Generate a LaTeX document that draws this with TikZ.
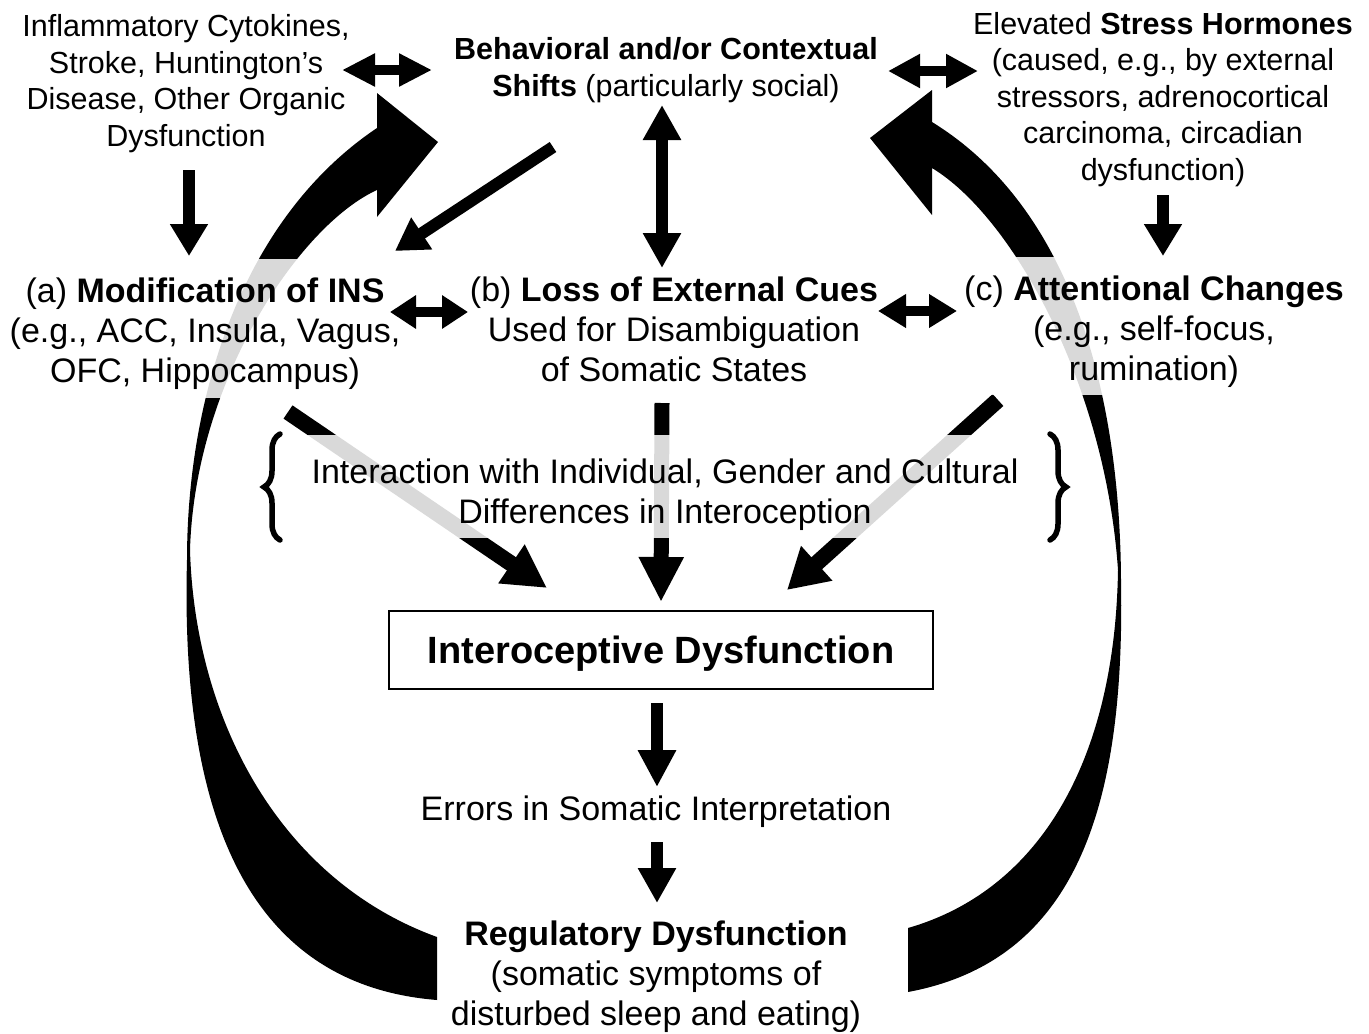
\documentclass[tikz,border=0pt]{standalone}
\usepackage{fontspec}
\setmainfont{Liberation Sans}
\usetikzlibrary{arrows.meta,decorations.pathreplacing}

% multi-line nodes are anchored at the baseline of their last line
\tikzset{
  toptext/.style={font=\fontsize{30.5}{36.5}\selectfont, align=center, anchor=base, inner sep=0pt},
  midtext/.style={font=\fontsize{34}{40}\selectfont, align=center, anchor=base, inner sep=0pt},
  veil/.style={fill=white, fill opacity=0.85},
  onearrow/.style n args={3}{draw, line width=#1, -{Triangle[length=#2,width=#3]}},
  twoarrow/.style n args={3}{draw, line width=#1, {Triangle[length=#2,width=#3]}-{Triangle[length=#2,width=#3]}},
  curly/.style={draw, line width=5.5pt, line cap=round, decorate, decoration={brace, amplitude=16pt, aspect=0.5}},
}

\begin{document}
\begin{tikzpicture}[x=1pt, y=-1pt]
\useasboundingbox (0,0) rectangle (1369,1034);
\fill[white] (0,0) rectangle (1369,1034);

% feedback loop, left: from regulatory dysfunction back up to the shifts
\fill[black] (437,1000) .. controls (250,985) and (180,820) .. (187,560)
  .. controls (187,400) and (240,220) .. (377,128)
  -- (377,93) -- (438,142) -- (377,217) -- (377,190)
  .. controls (300,225) and (195,380) .. (190,550)
  .. controls (195,720) and (280,880) .. (437,937) -- cycle;

% feedback loop, right
\fill[black] (908,992) .. controls (1080,960) and (1125,800) .. (1121,580)
  .. controls (1120,400) and (1075,210) .. (932,122)
  -- (932,90) -- (870,138) -- (932,215) -- (932,168)
  .. controls (1010,215) and (1105,380) .. (1118,570)
  .. controls (1115,760) and (1040,890) .. (908,928) -- cycle;

% arrows into interoceptive dysfunction (pass behind the interaction note)
\coordinate (insout) at (288,412);
\coordinate (insin) at (547,588);
\coordinate (cueout) at (662,403);
\coordinate (cuein) at (661,602);
\coordinate (attout) at (998,400);
\coordinate (attin) at (787,590);
\draw[onearrow={16pt}{43pt}{44pt}] (insout) -- (insin);
\draw[onearrow={15pt}{45pt}{42pt}] (cueout) -- (cuein);
\draw[onearrow={16pt}{40pt}{44pt}] (attout) -- (attin);

% translucent backings of the text blocks
\fill[veil] (0,259) rectangle (410,398);
\fill[veil] (955,257) rectangle (1369,395);
\fill[veil] (295,435) rectangle (1035,538);

% text
\node[toptext] (organic) at (186,146) {Inflammatory Cytokines,\\Stroke, Huntington’s\\Disease, Other Organic\\Dysfunction};
\node[toptext] (shifts) at (666,96) {\textbf{Behavioral and/or Contextual}\\\textbf{Shifts} (particularly social)};
\node[toptext] (stress) at (1163,180) {Elevated \textbf{Stress Hormones}\\(caused, e.g., by external\\stressors, adrenocortical\\carcinoma, circadian\\dysfunction)};

\node[midtext] (ins) at (205,382) {(a) \textbf{Modification of INS}\\(e.g., ACC, Insula, Vagus,\\OFC, Hippocampus)};
\node[midtext] (cues) at (674,381) {(b) \textbf{Loss of External Cues}\\Used for Disambiguation\\of Somatic States};
\node[midtext] (att) at (1154,380) {(c) \textbf{Attentional Changes}\\(e.g., self-focus,\\rumination)};

\node[midtext] (inter) at (665,523) {Interaction with Individual, Gender and Cultural\\Differences in Interoception};

\node[draw, line width=2.5pt, minimum width=544pt, minimum height=78pt, inner sep=0pt,
      text height=27pt, text depth=0pt, font=\bfseries\fontsize{38}{44}\selectfont]
      (intero) at (661,650) {Interoceptive Dysfunction};

\node[midtext] (errors) at (656,820) {Errors in Somatic Interpretation};
\node[midtext] (reg) at (656,1025) {\textbf{Regulatory Dysfunction}\\(somatic symptoms of\\disturbed sleep and eating)};

% braces around the interaction note
\coordinate (lbrB) at (280,540);
\coordinate (lbrT) at (280,434);
\coordinate (rbrT) at (1050,434);
\coordinate (rbrB) at (1050,540);
\draw[curly] (lbrB) -- (lbrT);
\draw[curly] (rbrT) -- (rbrB);

% causes feeding the three mechanisms
\coordinate (orgout) at (189,170);
\coordinate (insA) at (189,256);
\coordinate (strout) at (1163,195);
\coordinate (attA) at (1163,256);
\draw[onearrow={12pt}{32pt}{36pt}] (orgout) -- (insA);
\draw[onearrow={12pt}{32pt}{36pt}] (strout) -- (attA);

\coordinate (shdiag) at (553,147);
\coordinate (insB) at (395,251);
\draw[onearrow={12pt}{32pt}{36pt}] (shdiag) -- (insB);

% two-way links
\coordinate (orgR) at (342,70);
\coordinate (shL) at (432,70);
\coordinate (shR) at (888,71);
\coordinate (strL) at (978,71);
\draw[twoarrow={10pt}{33pt}{31pt}] (orgR) -- (shL);
\draw[twoarrow={10pt}{32pt}{32pt}] (shR) -- (strL);

\coordinate (insR) at (390,312);
\coordinate (cuesL) at (468,312);
\coordinate (cuesR) at (878,311);
\coordinate (attL) at (957,311);
\draw[twoarrow={10pt}{26pt}{32pt}] (insR) -- (cuesL);
\draw[twoarrow={10pt}{28pt}{32pt}] (cuesR) -- (attL);

\coordinate (shB) at (662,105);
\coordinate (cuesT) at (662,268);
\draw[twoarrow={12pt}{35pt}{36pt}] (shB) -- (cuesT);

% downstream chain
\coordinate (errT) at (657,787);
\coordinate (errB) at (657,842);
\coordinate (regT) at (657,903);
\draw[onearrow={12pt}{37pt}{36pt}] (intero.south -| errT) ++(0,13) -- (errT);
\draw[onearrow={12pt}{35pt}{36pt}] (errB) -- (regT);
\end{tikzpicture}
\end{document}
